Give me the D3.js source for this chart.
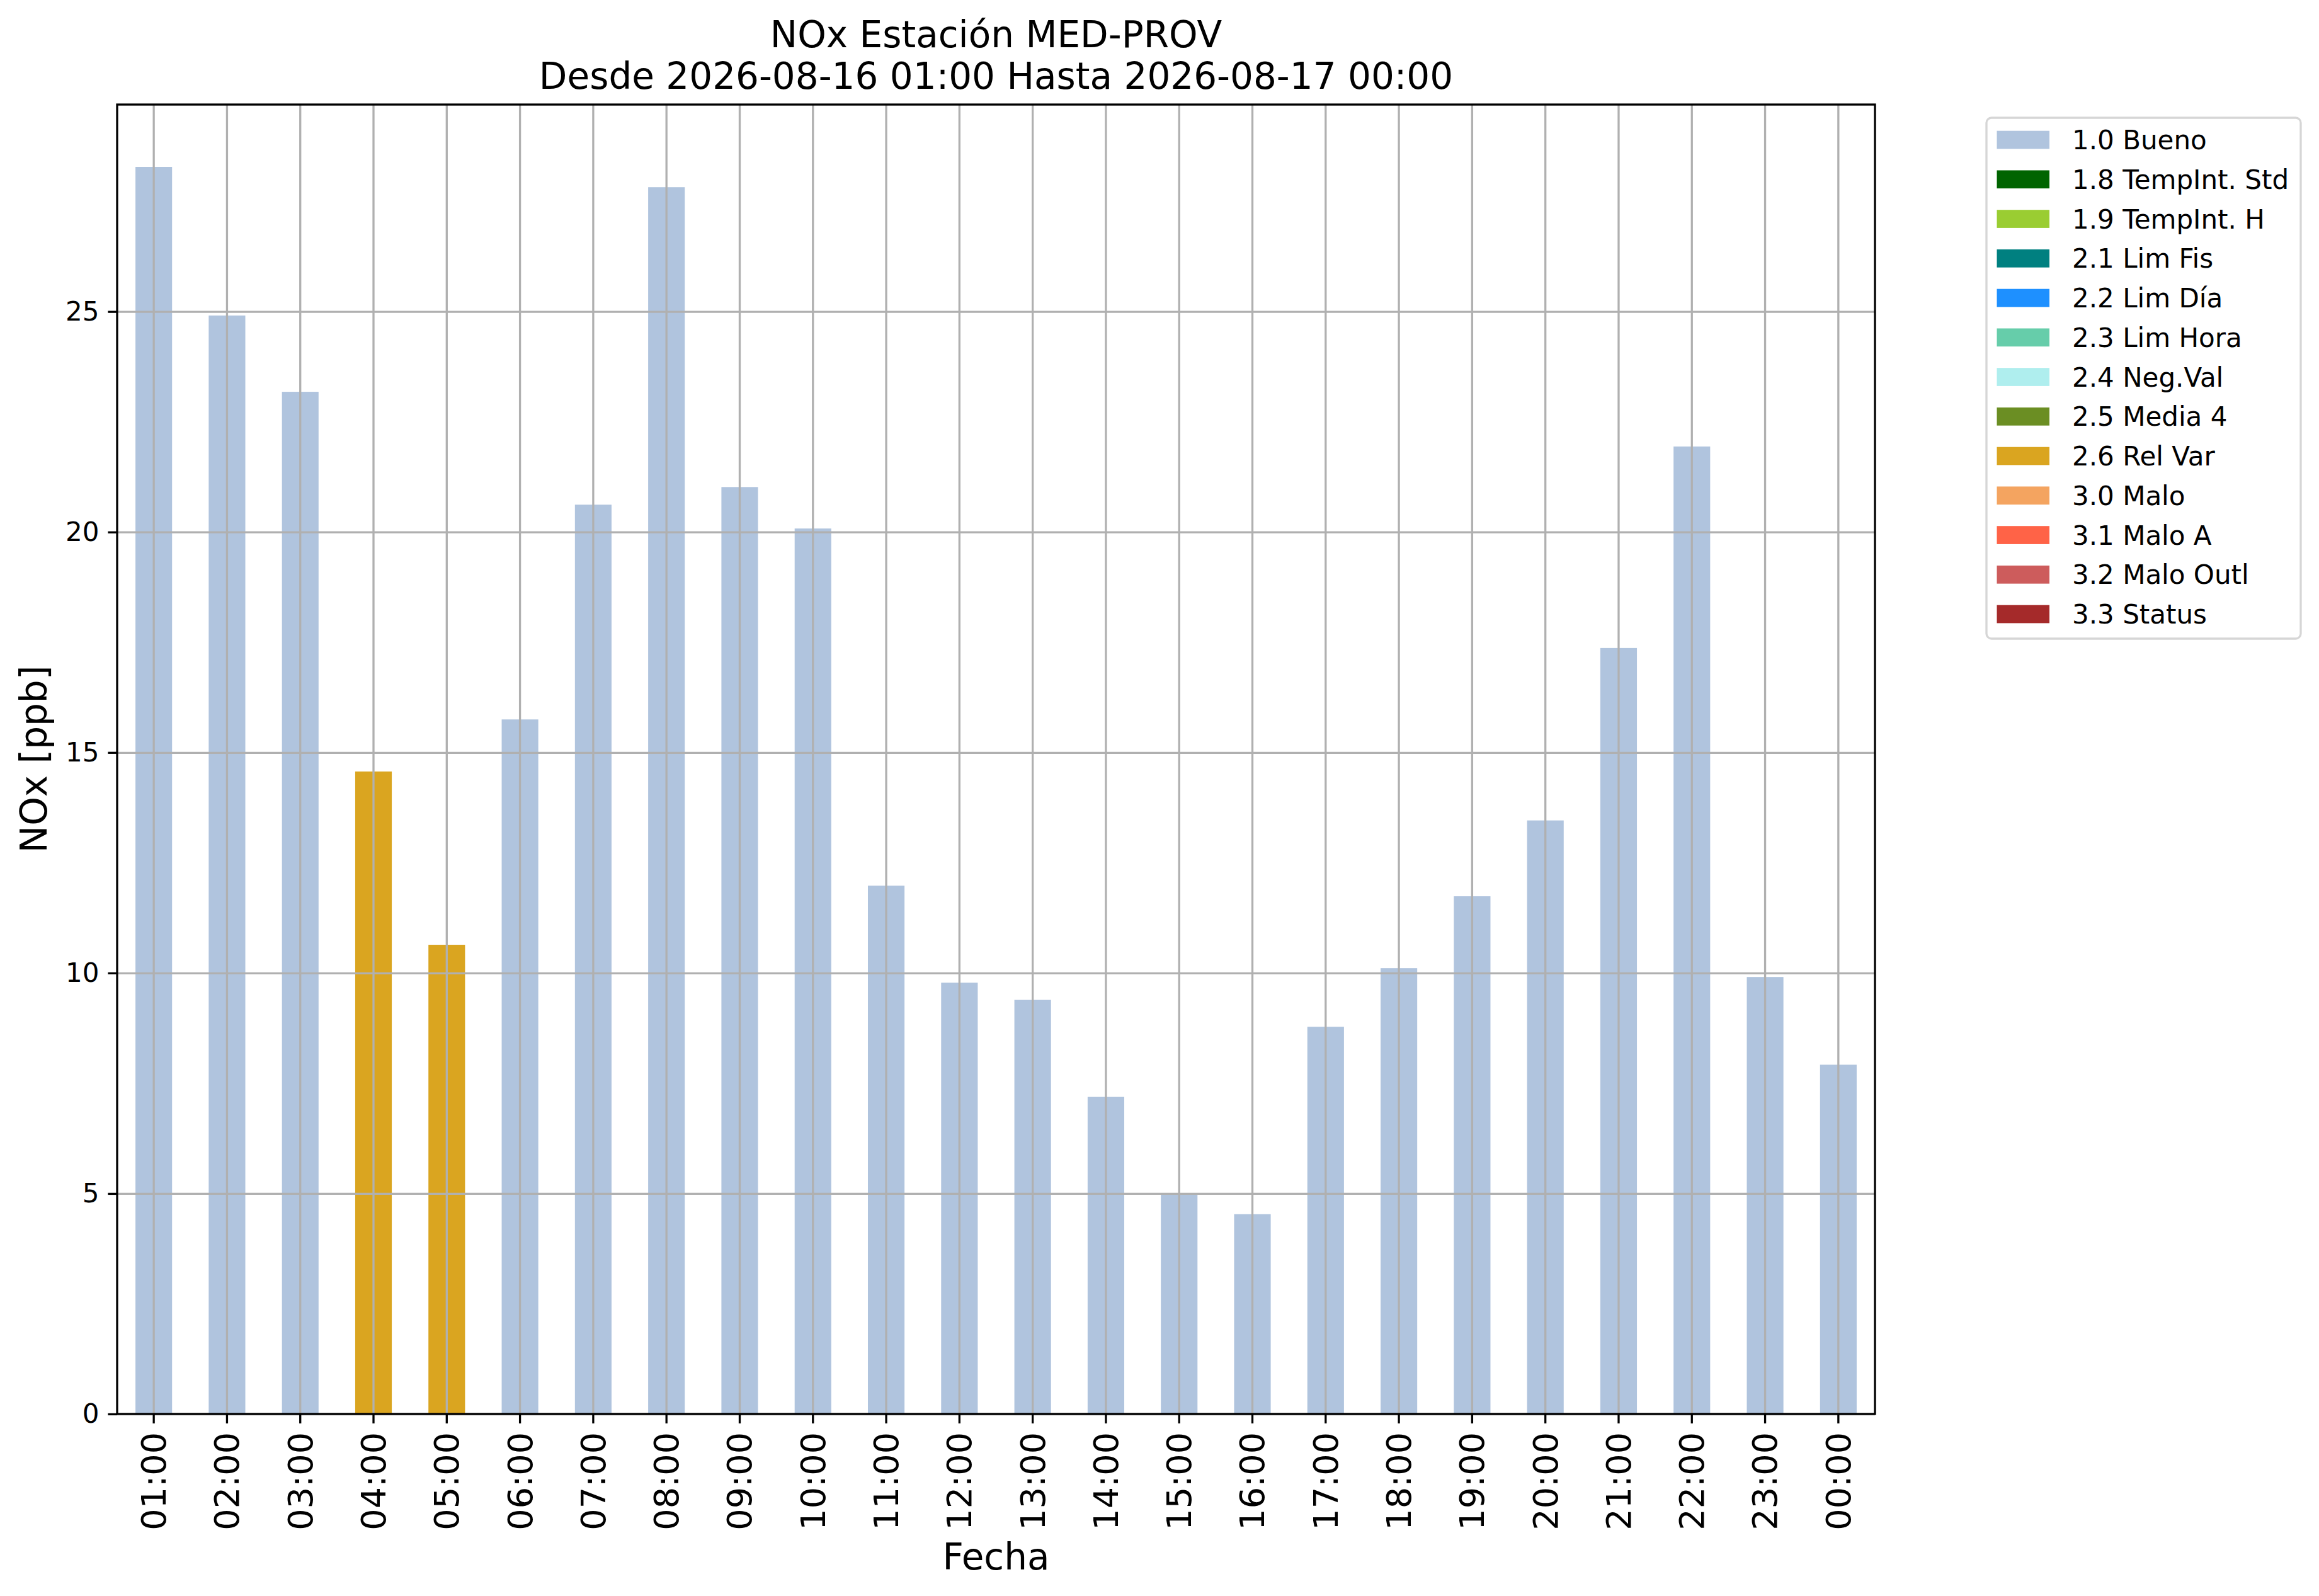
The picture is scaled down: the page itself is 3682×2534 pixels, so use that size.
<!DOCTYPE html>
<meta charset="utf-8">
<style>
body { margin: 0; background: #fff; }
text { font-family: "DejaVu Sans", sans-serif; fill: #000; }
.grid line { stroke: #b0b0b0; stroke-width: 3.3px; }
.grid path { display: none; }
.axis path, .axis line { stroke: #000; stroke-width: 3.3px; }
</style>
<body>
<script src="https://d3js.org/d3.v7.min.js"></script>
<script>

// horas del dia y NOx medido (ppb)
var horas = ["01:00", "02:00", "03:00", "04:00", "05:00", "06:00", "07:00", "08:00",
    "09:00", "10:00", "11:00", "12:00", "13:00", "14:00", "15:00", "16:00",
    "17:00", "18:00", "19:00", "20:00", "21:00", "22:00", "23:00", "00:00"];
var valores = [28.28, 24.91, 23.18, 14.57, 10.64, 15.75, 20.62, 27.82,
    21.02, 20.08, 11.98, 9.78, 9.39, 7.19, 4.99, 4.53,
    8.78, 10.11, 11.74, 13.46, 17.37, 21.94, 9.91, 7.92];
var banderas = ["1.0 Bueno", "1.0 Bueno", "1.0 Bueno", "2.6 Rel Var", "2.6 Rel Var", "1.0 Bueno",
    "1.0 Bueno", "1.0 Bueno", "1.0 Bueno", "1.0 Bueno", "1.0 Bueno", "1.0 Bueno",
    "1.0 Bueno", "1.0 Bueno", "1.0 Bueno", "1.0 Bueno", "1.0 Bueno", "1.0 Bueno",
    "1.0 Bueno", "1.0 Bueno", "1.0 Bueno", "1.0 Bueno", "1.0 Bueno", "1.0 Bueno"];

// leyenda de banderas de calidad
var categorias = ["1.0 Bueno", "1.8 TempInt. Std", "1.9 TempInt. H", "2.1 Lim Fis", "2.2 Lim Día",
    "2.3 Lim Hora", "2.4 Neg.Val", "2.5 Media 4", "2.6 Rel Var", "3.0 Malo",
    "3.1 Malo A", "3.2 Malo Outl", "3.3 Status"];
var colores = ["#b0c4de", "#006400", "#9acd32", "#008080", "#1e90ff",
    "#66cdaa", "#afeeee", "#6b8e23", "#daa520", "#f4a460",
    "#ff6347", "#cd5c5c", "#a52a2a"];

var yTicks = [0, 5, 10, 15, 20, 25];

var W = 3682, H = 2534;
var margin = {top: 166, right: 705, bottom: 289, left: 186},
    width = W - margin.left - margin.right,
    height = H - margin.top - margin.bottom;

var svg = d3.select("body").append("svg")
    .attr("width", W)
    .attr("height", H);

svg.append("rect").attr("width", W).attr("height", H).attr("fill", "#fff");

var g = svg.append("g")
    .attr("transform", "translate(" + margin.left + "," + margin.top + ")");

// scales
var x = d3.scaleBand().domain(horas).range([0, width])
    .paddingInner(0.5).paddingOuter(0.25);
var y = d3.scaleLinear().domain([0, d3.max(valores) * 1.05]).range([height, 0]);
var z = d3.scaleOrdinal().domain(categorias).range(colores);

// bars
g.selectAll(".bar")
    .data(valores)
    .enter().append("rect")
    .attr("class", "bar")
    .attr("x", function (d, i) { return x(horas[i]); })
    .attr("width", x.bandwidth())
    .attr("y", function (d) { return y(d); })
    .attr("height", function (d) { return y(0) - y(d); })
    .attr("fill", function (d, i) { return z(banderas[i]); });

// grid (over the bars, like matplotlib)
g.append("g")
    .attr("class", "grid")
    .call(d3.axisBottom(x).tickSize(height).tickFormat(""));
g.append("g")
    .attr("class", "grid")
    .call(d3.axisLeft(y).tickValues(yTicks).tickSize(-width).tickFormat(""));

// frame
g.append("rect")
    .attr("width", width).attr("height", height)
    .attr("fill", "none").attr("stroke", "#000").attr("stroke-width", 3.3);

// x axis
var xAxis = g.append("g")
    .attr("class", "axis")
    .attr("transform", "translate(0," + height + ")")
    .call(d3.axisBottom(x).tickSize(15).tickPadding(14).tickSizeOuter(0));
xAxis.select(".domain").remove();
xAxis.selectAll("text")
    .attr("transform", "rotate(-90)")
    .attr("x", -29)
    .attr("y", 0)
    .attr("dy", "0.35em")
    .style("text-anchor", "end")
    .style("font-size", "54px")
    .style("font-family", "DejaVu Sans");

// y axis
var yAxis = g.append("g")
    .attr("class", "axis")
    .call(d3.axisLeft(y).tickValues(yTicks).tickSize(14.6).tickPadding(14).tickSizeOuter(0));
yAxis.select(".domain").remove();
yAxis.selectAll("text")
    .style("font-size", "42px")
    .style("font-family", "DejaVu Sans");

// labels
svg.append("text")
    .attr("transform", "translate(74," + (margin.top + height / 2) + ") rotate(-90)")
    .attr("text-anchor", "middle")
    .style("font-size", "58px")
    .text("NOx [ppb]");

svg.append("text")
    .attr("x", margin.left + width / 2)
    .attr("y", 2492)
    .attr("text-anchor", "middle")
    .style("font-size", "58px")
    .text("Fecha");

svg.append("text")
    .attr("x", margin.left + width / 2)
    .attr("y", 75)
    .attr("text-anchor", "middle")
    .style("font-size", "58px")
    .text("NOx Estación MED-PROV");
svg.append("text")
    .attr("x", margin.left + width / 2)
    .attr("y", 141)
    .attr("text-anchor", "middle")
    .style("font-size", "58px")
    .text("Desde 2026-08-16 01:00 Hasta 2026-08-17 00:00");

// legend
var leg = svg.append("g").attr("transform", "translate(3154,187)");
leg.append("rect")
    .attr("width", 499).attr("height", 827)
    .attr("rx", 8).attr("ry", 8)
    .attr("fill", "#fff")
    .attr("stroke", "#d6d6d6").attr("stroke-width", 3.3);

var item = leg.selectAll(".item")
    .data(categorias)
    .enter().append("g")
    .attr("class", "item")
    .attr("transform", function (d, i) { return "translate(0," + (35 + i * 62.75) + ")"; });

item.append("rect")
    .attr("x", 16.5).attr("y", -14.3)
    .attr("width", 83.5).attr("height", 28.7)
    .attr("fill", function (d) { return z(d); });

item.append("text")
    .attr("x", 136)
    .attr("dy", "0.36em")
    .style("font-size", "42px")
    .text(function (d) { return d; });

</script>
</body>
